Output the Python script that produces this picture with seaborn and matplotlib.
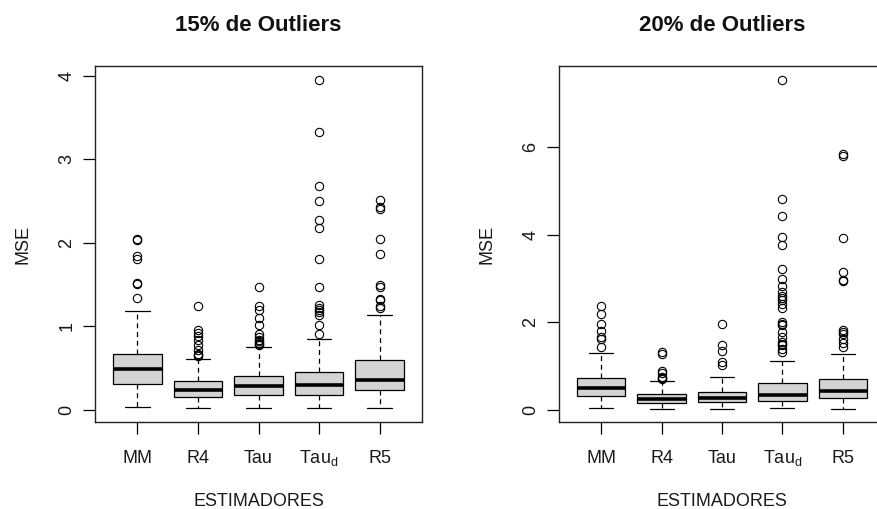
import numpy as np
import pandas as pd
import matplotlib
matplotlib.use("Agg")
import matplotlib.pyplot as plt
import seaborn as sns

sns.set_theme(style="ticks")
plt.rcParams['font.family'] = ['Liberation Sans', 'DejaVu Sans']
plt.rcParams['mathtext.default'] = 'regular'

# ---------------- data ----------------
estimadores = ["MM", "R4", "Tau", "Tau_d", "R5"]
tick_labels = ["MM", "R4", "Tau", "Tau$_d$", "R5"]

# 15% de outliers: whisker low, Q1, median, Q3, whisker high
lo_15 = [0.030, 0.016, 0.016, 0.016, 0.016]
q1_15 = [0.312, 0.146, 0.174, 0.174, 0.230]
med_15 = [0.483, 0.233, 0.277, 0.289, 0.360]
q3_15 = [0.668, 0.344, 0.407, 0.455, 0.600]
hi_15 = [1.178, 0.605, 0.751, 0.850, 1.140]
out_15_MM = [1.34, 1.50, 1.52, 1.81, 1.84, 2.03, 2.04]
out_15_R4 = [0.645, 0.655, 0.665, 0.72, 0.78, 0.83, 0.88, 0.92, 0.95, 1.24]
out_15_Tau = [0.77, 0.79, 0.80, 0.82, 0.84, 0.87, 0.91, 1.01, 1.10, 1.19, 1.24, 1.47]
out_15_Taud = [0.91, 1.015, 1.14, 1.17, 1.20, 1.22, 1.25, 1.47, 1.81, 2.18, 2.27,
               2.50, 2.68, 3.33, 3.95]
out_15_R5 = [1.22, 1.24, 1.31, 1.33, 1.47, 1.49, 1.86, 2.05, 2.40, 2.43, 2.51]

# 20% de outliers
lo_20 = [0.031, 0.015, 0.015, 0.038, 0.015]
q1_20 = [0.321, 0.153, 0.168, 0.191, 0.267]
med_20 = [0.489, 0.244, 0.267, 0.328, 0.435]
q3_20 = [0.725, 0.359, 0.412, 0.618, 0.695]
hi_20 = [1.298, 0.649, 0.756, 1.100, 1.280]
out_20_MM = [1.43, 1.61, 1.66, 1.79, 1.95, 2.18, 2.36]
out_20_R4 = [0.69, 0.72, 0.75, 0.84, 0.88, 1.27, 1.31]
out_20_Tau = [1.03, 1.08, 1.33, 1.47, 1.96]
out_20_Taud = [1.32, 1.39, 1.47, 1.51, 1.55, 1.65, 1.77, 1.93, 1.96, 2.00, 2.31,
               2.42, 2.51, 2.56, 2.59, 2.69, 2.82, 2.99, 3.21, 3.77, 3.95, 4.42,
               4.81, 7.52]
out_20_R5 = [1.42, 1.52, 1.62, 1.72, 1.77, 1.83, 2.93, 2.96, 3.15, 3.92, 5.79, 5.85]

outs_15 = [out_15_MM, out_15_R4, out_15_Tau, out_15_Taud, out_15_R5]
outs_20 = [out_20_MM, out_20_R4, out_20_Tau, out_20_Taud, out_20_R5]


def muestra(lo, q1, med, q3, hi, outs, k=100):
    # sample whose quartiles / whiskers / outliers equal the read values
    return [lo] + [q1] * k + [med] * k + [q3] * k + [hi] + list(outs)


def build(lo, q1, med, q3, hi, outs):
    rows = []
    for i, est in enumerate(estimadores):
        for v in muestra(lo[i], q1[i], med[i], q3[i], hi[i], outs[i]):
            rows.append((est, v))
    return pd.DataFrame(rows, columns=["est", "MSE"])


df15 = build(lo_15, q1_15, med_15, q3_15, hi_15, outs_15)
df20 = build(lo_20, q1_20, med_20, q3_20, hi_20, outs_20)

# ---------------- figure ----------------
W, H = 877, 509
fig = plt.figure(figsize=(W / 100, H / 100), dpi=100)
ax1 = fig.add_axes([95 / W, (H - 422) / H, 327 / W, 356 / H])
ax2 = fig.add_axes([559 / W, (H - 422) / H, 326 / W, 356 / H])


def draw(ax, df, title, ylim, yticks):
    sns.boxplot(data=df, x="est", y="MSE", order=estimadores, ax=ax,
                color="#D3D3D3", saturation=1, linecolor="black", linewidth=0.9,
                width=0.8, whis=1.5, fliersize=6,
                medianprops=dict(linewidth=2.6, color="black"),
                whiskerprops=dict(linestyle=(0, (4, 3)), color="black"),
                capprops=dict(color="black"),
                flierprops=dict(marker="o", markerfacecolor="none",
                                markeredgecolor="black", markeredgewidth=0.8,
                                markersize=6))
    ax.set_xlim(-0.7, 4.7)
    ax.set_ylim(*ylim)
    ax.set_yticks(yticks)
    ax.set_yticklabels([str(t) for t in yticks])
    ax.set_xticks(range(len(estimadores)))
    ax.set_xticklabels(tick_labels)
    ax.tick_params(axis="both", length=8.3, width=0.9, color="black",
                   labelsize=13, labelcolor="#1a1a1a")
    ax.tick_params(axis="x", pad=21)
    ax.tick_params(axis="y", pad=6, labelrotation=90)
    for lab in ax.get_xticklabels():
        lab.set_va("baseline")
    for lab in ax.get_yticklabels():
        lab.set_va("center")
    for sp in ax.spines.values():
        sp.set_visible(True)
        sp.set_color("#222222")
        sp.set_linewidth(1.0)
    ax.set_xlabel("ESTIMADORES", fontsize=13, color="#1a1a1a", va="baseline")
    ax.xaxis.set_label_coords(0.5, -(506 - 422) / 356)
    ax.set_ylabel("MSE", fontsize=13, labelpad=19, color="#1a1a1a")
    ax.set_title(title, fontsize=16, fontweight="bold", pad=25, color="#111111")


draw(ax1, df15, "15% de Outliers", (-0.149, 4.12), [0, 1, 2, 3, 4])
draw(ax2, df20, "20% de Outliers", (-0.283, 7.85), [0, 2, 4, 6])

fig.savefig("out.png", dpi=100)
